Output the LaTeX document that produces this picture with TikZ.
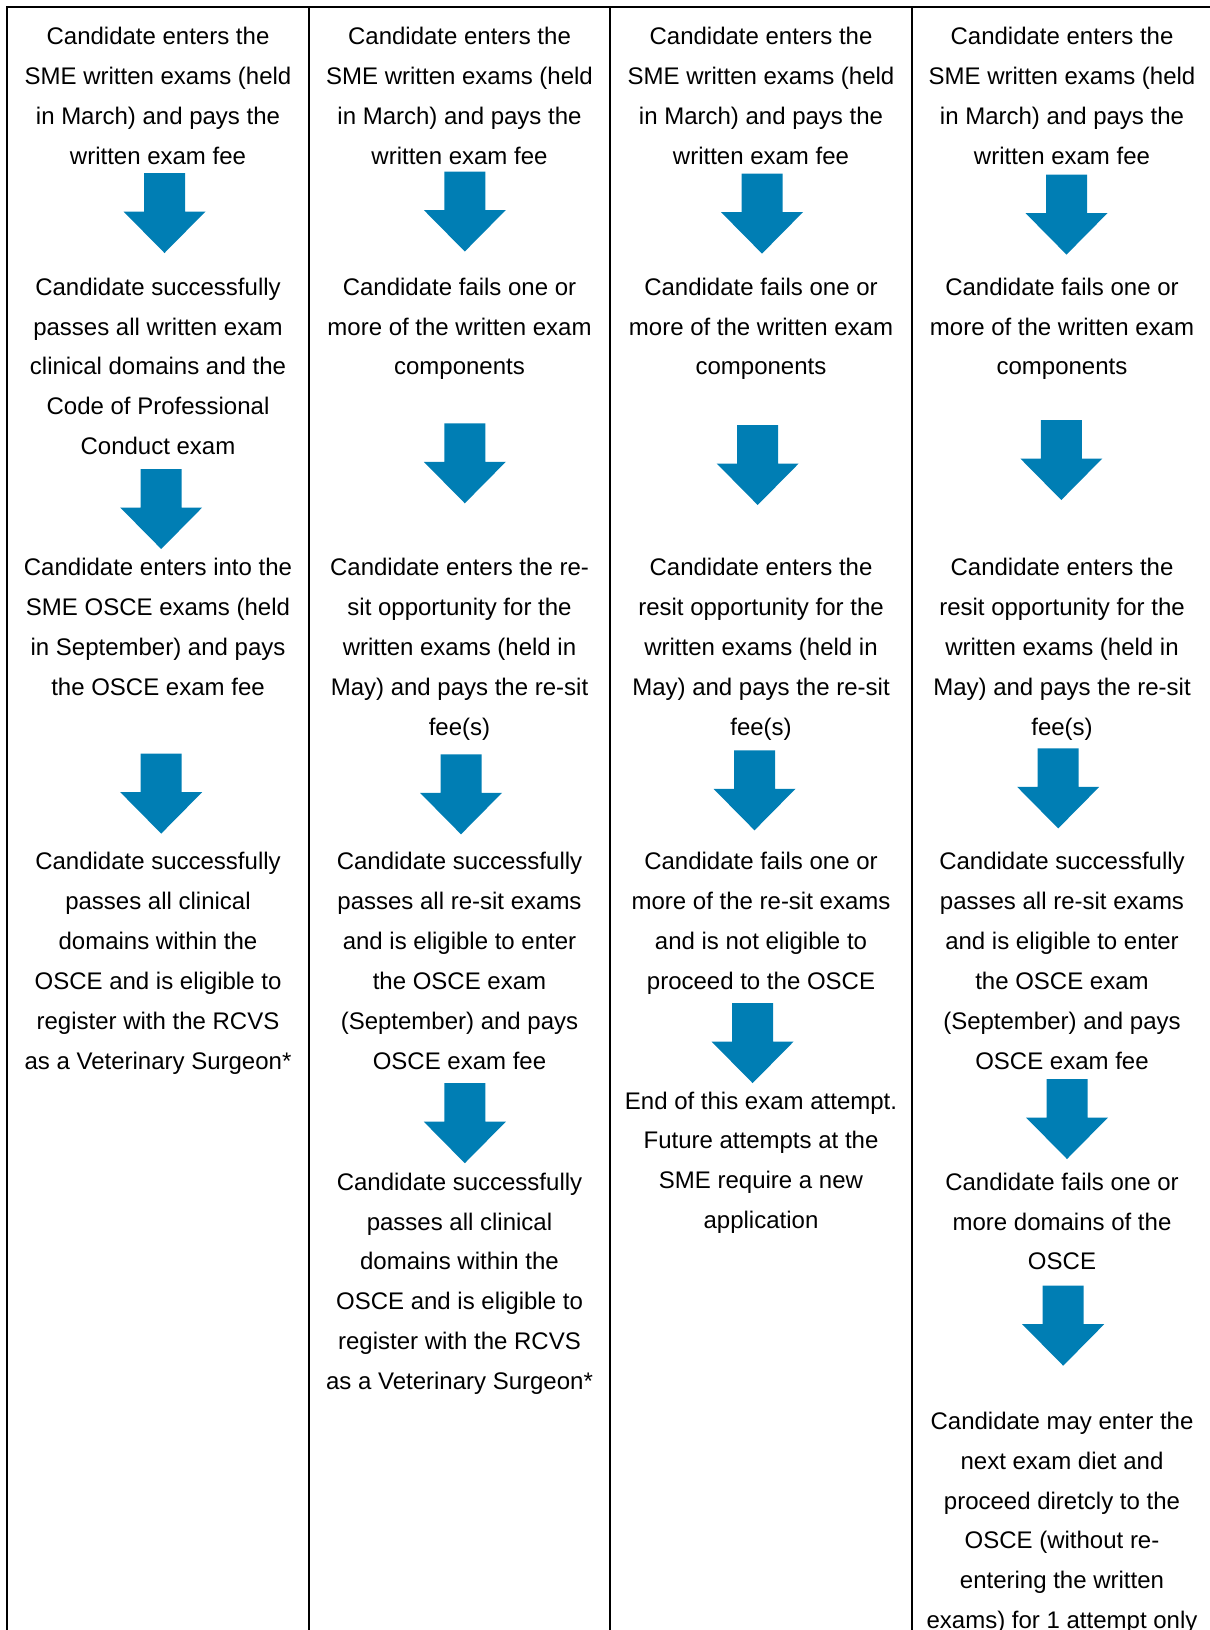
\documentclass[tikz,border=0pt]{standalone}
\usepackage{fontspec}
\setmainfont{Liberation Sans}
\definecolor{arrowblue}{RGB}{0,126,180}
\tikzset{
  txt/.style={font=\fontsize{12}{19.95}\selectfont, align=center, inner sep=0pt, anchor=north},
  rule/.style={line width=1pt, draw=black},
  darrow/.pic={\fill[arrowblue] (-20.5,0) -- (20.5,0) -- (20.5,38.5) -- (41,38.5) -- (0,80) -- (-41,38.5) -- (-20.5,38.5) -- cycle;}
}
\begin{document}
\begin{tikzpicture}[x=0.5pt,y=-0.5pt]
\useasboundingbox (0,0) rectangle (1210,1630);
% table rules
\coordinate (tl) at (7,7);
\coordinate (tr) at (1212,7);
\draw[rule] (tl) -- (tr);
\foreach \xx/\nm in {7/a,309/b,610/c,912/d}{
  \coordinate (top\nm) at (\xx,6);
  \coordinate (bot\nm) at (\xx,1632);
  \draw[rule] (top\nm) -- (bot\nm);
}
% ---------- column 1 ----------
\node[txt] (c1b1) at (158,26.6) {Candidate enters the\\SME written exams (held\\in March) and pays the\\written exam fee};
\pic (c1a1) at (164.5,173) {darrow};
\node[txt] (c1b2) at (158,277.3) {Candidate successfully\\passes all written exam\\clinical domains and the\\Code of Professional\\Conduct exam};
\pic (c1a2) at (161.2,469) {darrow};
\node[txt] (c1b3) at (158,557.9) {Candidate enters into the\\SME OSCE exams (held\\in September) and pays\\the OSCE exam fee};
\pic (c1a3) at (161.2,753.6) {darrow};
\node[txt] (c1b4) at (158,852.1) {Candidate successfully\\passes all clinical\\domains within the\\OSCE and is eligible to\\register with the RCVS\\as a Veterinary Surgeon*};
% ---------- column 2 ----------
\node[txt] (c2b1) at (459.5,26.6) {Candidate enters the\\SME written exams (held\\in March) and pays the\\written exam fee};
\pic (c2a1) at (464.8,171.5) {darrow};
\node[txt] (c2b2) at (459.5,277.3) {Candidate fails one or\\more of the written exam\\components};
\pic (c2a2) at (464.8,423.3) {darrow};
\node[txt] (c2b3) at (459.5,557.9) {Candidate enters the re-\\sit opportunity for the\\written exams (held in\\May) and pays the re-sit\\fee(s)};
\pic (c2a3) at (461,754.3) {darrow};
\node[txt] (c2b4) at (459.5,852.1) {Candidate successfully\\passes all re-sit exams\\and is eligible to enter\\the OSCE exam\\(September) and pays\\OSCE exam fee};
\pic (c2a4) at (464.8,1083.2) {darrow};
\node[txt] (c2b5) at (459.5,1172.3) {Candidate successfully\\passes all clinical\\domains within the\\OSCE and is eligible to\\register with the RCVS\\as a Veterinary Surgeon*};
% ---------- column 3 ----------
\node[txt] (c3b1) at (761,26.6) {Candidate enters the\\SME written exams (held\\in March) and pays the\\written exam fee};
\pic (c3a1) at (762,173.6) {darrow};
\node[txt] (c3b2) at (761,277.3) {Candidate fails one or\\more of the written exam\\components};
\pic (c3a2) at (757.7,425) {darrow};
\node[txt] (c3b3) at (761,557.9) {Candidate enters the\\resit opportunity for the\\written exams (held in\\May) and pays the re-sit\\fee(s)};
\pic (c3a3) at (754.5,750.3) {darrow};
\node[txt] (c3b4) at (761,852.1) {Candidate fails one or\\more of the re-sit exams\\and is not eligible to\\proceed to the OSCE};
\pic (c3a4) at (752.6,1003.1) {darrow};
\node[txt] (c3b5) at (761,1091.2) {End of this exam attempt.\\Future attempts at the\\SME require a new\\application};
% ---------- column 4 ----------
\node[txt] (c4b1) at (1062,26.6) {Candidate enters the\\SME written exams (held\\in March) and pays the\\written exam fee};
\pic (c4a1) at (1066.5,174.6) {darrow};
\node[txt] (c4b2) at (1062,277.3) {Candidate fails one or\\more of the written exam\\components};
\pic (c4a2) at (1061.3,420) {darrow};
\node[txt] (c4b3) at (1062,557.9) {Candidate enters the\\resit opportunity for the\\written exams (held in\\May) and pays the re-sit\\fee(s)};
\pic (c4a3) at (1058.2,748.4) {darrow};
\node[txt] (c4b4) at (1062,852.1) {Candidate successfully\\passes all re-sit exams\\and is eligible to enter\\the OSCE exam\\(September) and pays\\OSCE exam fee};
\pic (c4a4) at (1067,1079) {darrow};
\node[txt] (c4b5) at (1062,1172.3) {Candidate fails one or\\more domains of the\\OSCE};
\pic (c4a5) at (1063.2,1285.7) {darrow};
\node[txt] (c4b6) at (1062,1411.4) {Candidate may enter the\\next exam diet and\\proceed diretcly to the\\OSCE (without re-\\entering the written\\exams) for 1 attempt only};
\end{tikzpicture}
\end{document}
